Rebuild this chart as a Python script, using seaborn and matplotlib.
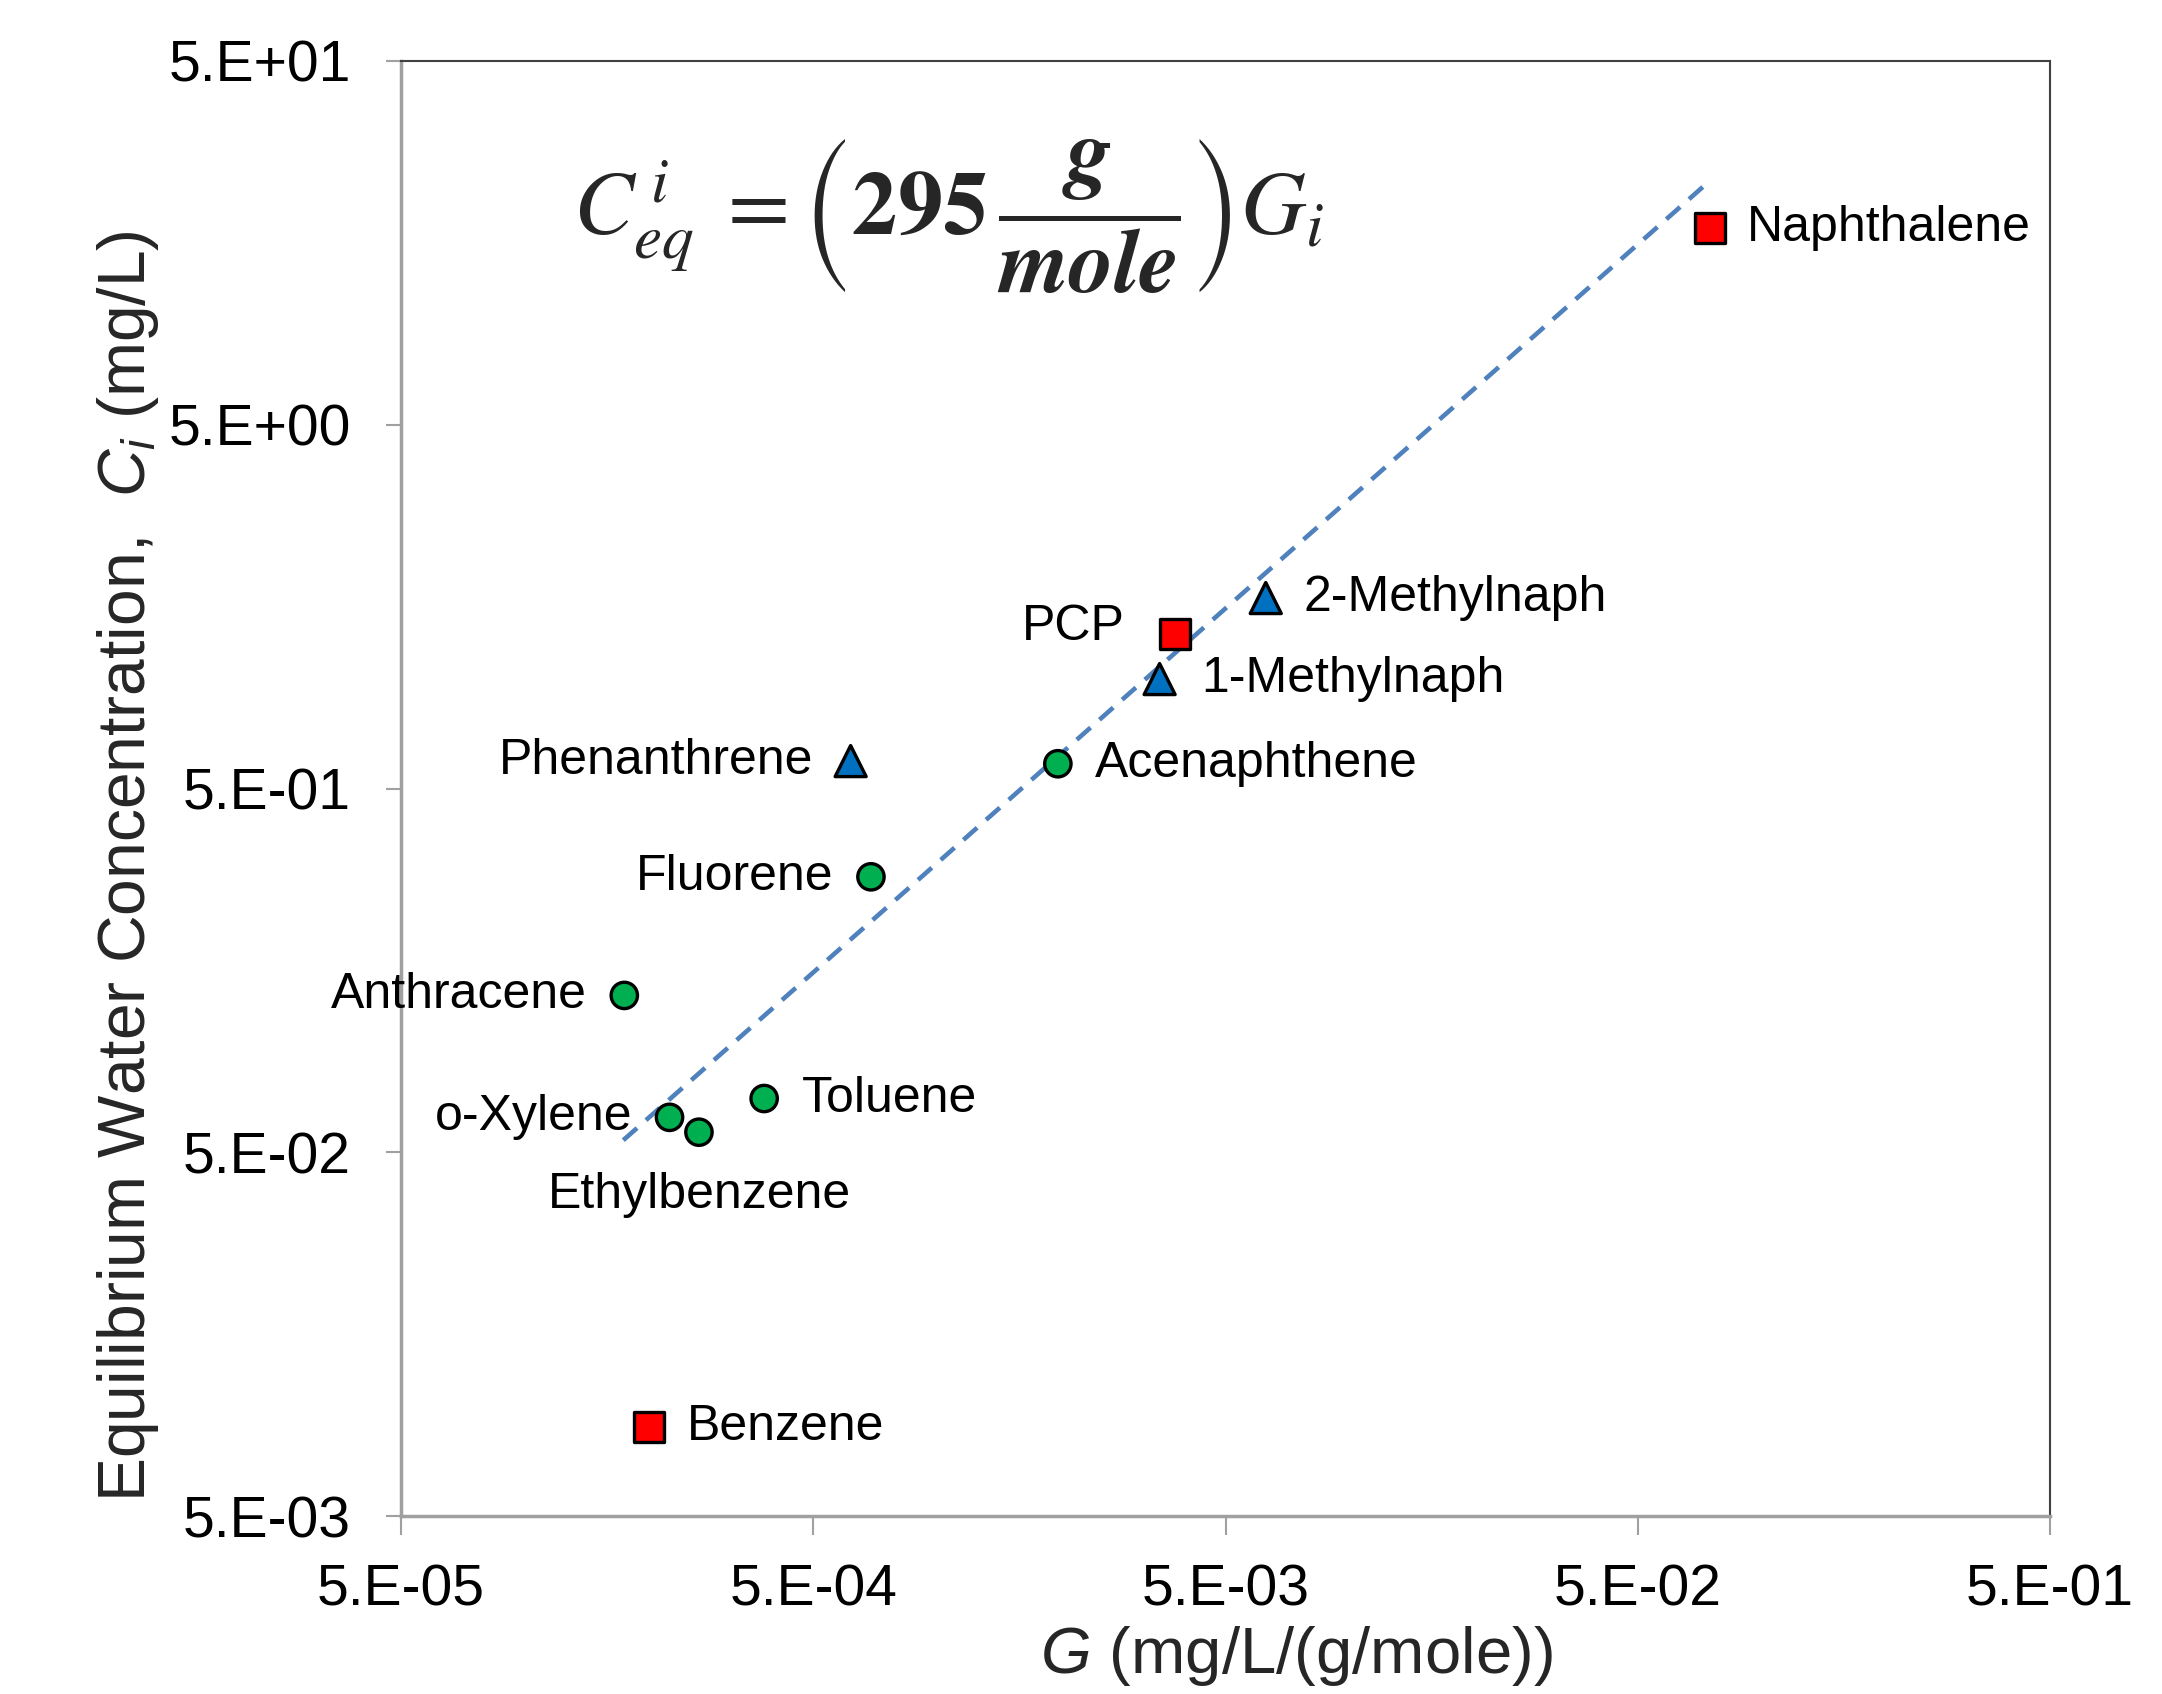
import numpy as np
import pandas as pd
import matplotlib
matplotlib.use("Agg")
import matplotlib.pyplot as plt
import seaborn as sns
from matplotlib.ticker import FixedLocator, NullLocator

# ---------------- data ----------------
compounds = ["Naphthalene", "2-Methylnaph", "PCP", "1-Methylnaph", "Phenanthrene",
             "Acenaphthene", "Fluorene", "Anthracene", "Toluene", "o-Xylene",
             "Ethylbenzene", "Benzene"]
g_values = [0.0747, 0.00626, 0.00377, 0.00346, 0.000616,
            0.00196, 0.00069, 0.000174, 0.000380, 0.000224,
            0.000264, 0.000200]
c_values = [17.4, 1.67, 1.33, 1.00, 0.595,
            0.585, 0.286, 0.135, 0.0703, 0.0624,
            0.0568, 0.00878]
groups = ["square", "triangle", "square", "triangle", "triangle",
          "circle", "circle", "circle", "circle", "circle",
          "circle", "square"]
# label placement: side of marker
label_side = ["right", "right", "left", "right", "left",
              "right", "left", "left", "right", "left",
              "below", "right"]

fit_x = [1.73e-4, 7.47e-2]
fit_y = [0.054, 23.4]

x_ticks = [5e-5, 5e-4, 5e-3, 5e-2, 5e-1]
x_ticklabels = ["5.E-05", "5.E-04", "5.E-03", "5.E-02", "5.E-01"]
y_ticks = [5e-3, 5e-2, 5e-1, 5e0, 5e1]
y_ticklabels = ["5.E-03", "5.E-02", "5.E-01", "5.E+00", "5.E+01"]

df = pd.DataFrame({"G": g_values, "C": c_values, "group": groups, "name": compounds})
fit_df = pd.DataFrame({"G": fit_x, "C": fit_y})

# ---------------- style ----------------
sns.set_style("white")
plt.rcParams["font.family"] = ["Liberation Sans", "DejaVu Sans"]
plt.rcParams["mathtext.fontset"] = "custom"
plt.rcParams["mathtext.rm"] = "Liberation Sans"
plt.rcParams["mathtext.it"] = "Liberation Sans:italic"
plt.rcParams["mathtext.bf"] = "Liberation Sans:bold"

fig = plt.figure(figsize=(21.62, 16.94), dpi=100)
ax = fig.add_axes([0.1855, 0.1050, 0.7627, 0.8590])
ax.set_xscale("log")
ax.set_yscale("log")

sns.lineplot(data=fit_df, x="G", y="C", ax=ax, color="#4F81BD", linewidth=3.3,
             dashes=False, linestyle=(0, (4, 2.6)), legend=False)

palette = {"circle": "#00B050", "triangle": "#0070C0", "square": "#FF0000"}
markers = {"circle": "o", "triangle": "^", "square": "s"}
sizes = {"circle": 360, "triangle": 500, "square": 460}
sns.scatterplot(data=df, x="G", y="C", hue="group", style="group", size="group",
                palette=palette, markers=markers, sizes=sizes,
                edgecolor="black", linewidth=2.4, ax=ax, legend=False, zorder=5)

label_fs = 36
offsets = {"right": (27, 0, "left", "center"),
           "left": (-27, 0, "right", "center"),
           "below": (0, -45, "center", "center")}
for name, gx, cy, side in zip(compounds, g_values, c_values, label_side):
    dx, dy, ha, va = offsets[side]
    if name == "PCP":
        dx, dy = -36, 5
    if name == "1-Methylnaph":
        dx = 30
    ax.annotate(name, (gx, cy), xytext=(dx, dy), textcoords="offset points",
                ha=ha, va=va, fontsize=label_fs, color="black")

# equation
ax.text(0.332, 0.893,
        r"$C^{\,i}_{eq}\;=\left(\mathbf{295}\,\dfrac{\mathbfit{g}}{\mathbfit{mole}}\right)G_i$",
        transform=ax.transAxes, ha="center", va="center", fontsize=65,
        math_fontfamily="stix")

ax.set_xlim(5e-5, 5e-1)
ax.set_ylim(5e-3, 5e1)
ax.xaxis.set_major_locator(FixedLocator(x_ticks))
ax.yaxis.set_major_locator(FixedLocator(y_ticks))
ax.xaxis.set_minor_locator(NullLocator())
ax.yaxis.set_minor_locator(NullLocator())
ax.set_xticklabels(x_ticklabels)
ax.set_yticklabels(y_ticklabels)

ax.tick_params(axis="x", which="major", direction="out", length=14, width=1.5,
               color="#A0A0A0", pad=20, labelsize=41, labelcolor="black")
ax.tick_params(axis="y", which="major", direction="out", length=11, width=1.5,
               color="#A0A0A0", pad=25, labelsize=41, labelcolor="black")
ax.tick_params(bottom=True, left=True)

for s in ["left", "bottom"]:
    ax.spines[s].set_color("#A0A0A0")
    ax.spines[s].set_linewidth(2.5)
for s in ["top", "right"]:
    ax.spines[s].set_color("#404040")
    ax.spines[s].set_linewidth(1.5)
ax.grid(False)

ax.set_xlabel(r"$G$ (mg/L/(g/mole))", fontsize=47)
ax.set_ylabel(r"Equilibrium Water Concentration,  $C_i$ (mg/L)", fontsize=47.5)
ax.xaxis.set_label_coords(0.543, -0.074)
ax.yaxis.set_label_coords(-0.1455, 0.447)

fig.savefig("out.png", dpi=100, facecolor="white")
